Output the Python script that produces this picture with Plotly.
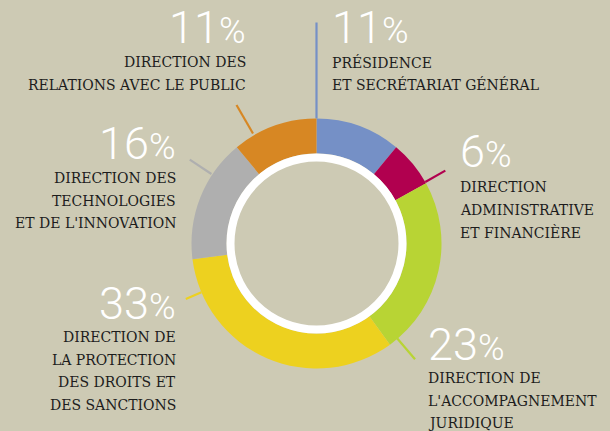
import math
import plotly.graph_objects as go

# ---- data ----
percent = [11, 6, 23, 33, 16, 11]
percent_text = ["11", "6", "23", "33", "16", "11"]
label_lines = [
    ["PRÉSIDENCE", "ET SECRÉTARIAT GÉNÉRAL"],
    ["DIRECTION", "ADMINISTRATIVE", "ET FINANCIÈRE"],
    ["DIRECTION DE", "L'ACCOMPAGNEMENT", "JURIDIQUE"],
    ["DIRECTION DE", "LA PROTECTION", "DES DROITS ET", "DES SANCTIONS"],
    ["DIRECTION DES", "TECHNOLOGIES", "ET DE L'INNOVATION"],
    ["DIRECTION DES", "RELATIONS AVEC LE PUBLIC"],
]
colors = ["#7590c6", "#b1004f", "#b8d434", "#edd11f", "#afafaf", "#d78723"]

# ---- layout / style ----
W, H = 610, 431
BG = "#cdcab4"
cx, cy, R = 316.5, 243.5, 125
HOLE_R = 90
RING_R, RING_W = 86, 8

leader_angle = [0, 60.5, 139.6, 247, 303.5, 330]
leader_r = [(125, 221), (125, 148), (124, 152), (125, 142), (126, 152), (127, 160)]

# label placement: (x, anchor, number center y, first line y)
label_place = [
    (330, "left", 27, 62),
    (458, "left", 151, 187),
    (426, "left", 344, 378),
    (178, "right", 303, 337),
    (178, "right", 143, 178),
    (248, "right", 27, 62),
]
LINE_GAP = 22.5

fig = go.Figure()

fig.add_trace(go.Pie(
    values=percent,
    marker=dict(colors=colors, line=dict(width=0)),
    sort=False, direction="clockwise", rotation=0,
    hole=HOLE_R / R, textinfo="none", hoverinfo="skip", showlegend=False,
    domain=dict(x=[(cx - R) / W, (cx + R) / W],
                y=[(H - cy - R) / H, (H - cy + R) / H]),
))

# leader lines
for a, (r0, r1), c in zip(leader_angle, leader_r, colors):
    t = math.radians(a)
    xs = [cx + r0 * math.sin(t), cx + r1 * math.sin(t)]
    ys = [cy - r0 * math.cos(t), cy - r1 * math.cos(t)]
    fig.add_trace(go.Scatter(x=xs, y=ys, mode="lines",
                             line=dict(color=c, width=2.2),
                             hoverinfo="skip", showlegend=False))

# white ring
fig.add_shape(type="circle", xref="x", yref="y",
              x0=cx - RING_R, x1=cx + RING_R, y0=cy - RING_R, y1=cy + RING_R,
              line=dict(color="white", width=RING_W), layer="above")

annotations = []
for num, lines, (x, anc, ny, ly) in zip(percent_text, label_lines, label_place):
    annotations.append(dict(
        x=x, y=ny, xref="x", yref="y", xanchor=anc, yanchor="middle",
        text=f"{num}<span style='font-size:36px'>%</span>",
        showarrow=False,
        font=dict(family="Roboto", size=45, color="white", weight=300),
    ))
    for i, ln in enumerate(lines):
        annotations.append(dict(
            x=x, y=ly + i * LINE_GAP, xref="x", yref="y",
            xanchor=anc, yanchor="middle", text=ln, showarrow=False,
            font=dict(family="DejaVu Serif", size=14, color="#1c1c1c"),
        ))

fig.update_layout(
    width=W, height=H, margin=dict(l=0, r=0, t=0, b=0),
    paper_bgcolor=BG, plot_bgcolor=BG,
    xaxis=dict(range=[0, W], visible=False, fixedrange=True, domain=[0, 1]),
    yaxis=dict(range=[H, 0], visible=False, fixedrange=True, domain=[0, 1]),
    annotations=annotations,
)

fig.write_html(
    "out.html",
    config={"displayModeBar": False},
    post_script="document.body.style.margin='0';document.body.style.overflow='hidden';",
)
